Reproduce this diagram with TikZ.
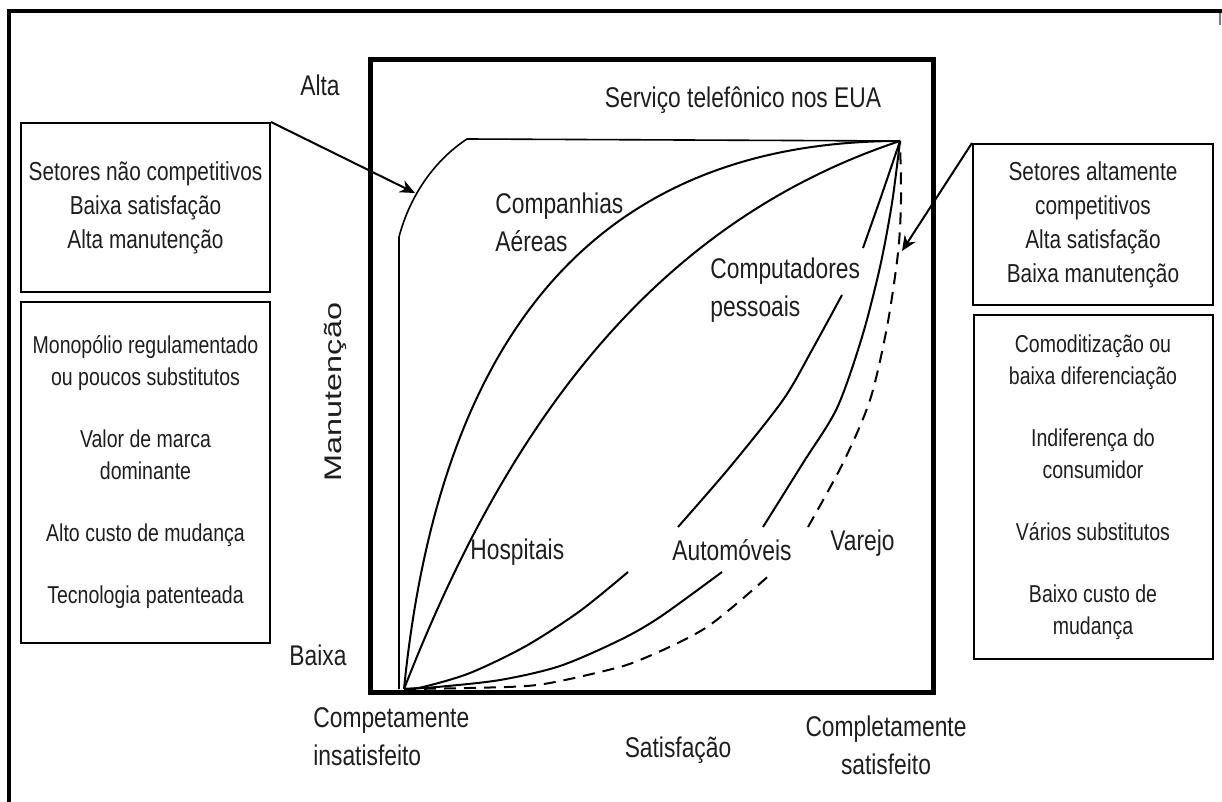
\documentclass[tikz,border=0pt]{standalone}
\usepackage{fontspec}
\setmainfont{Liberation Sans}[FakeStretch=0.8]
\newfontfamily\axisfont{Liberation Sans}[FakeStretch=1.35]
\usetikzlibrary{arrows.meta, positioning}

\tikzset{
    infobox/.style={draw, line width=1pt, inner sep=0pt, align=center, text=inkgray,
        font=\fontsize{13}{17}\selectfont},
    listbox/.style={infobox, font=\fontsize{12.2}{16}\selectfont},
    plotlabel/.style={inner sep=0pt, align=left, text=inkgray,
        font=\fontsize{14.25}{19}\selectfont},
    curve/.style={line width=1pt},
    pointer/.style={line width=1pt, -{Stealth[length=7.5pt, width=6.5pt]}},
}

\begin{document}
\begin{tikzpicture}[x=0.5pt, y=-0.5pt]
    \definecolor{inkgray}{RGB}{30, 30, 30}
    \definecolor{edgeviolet}{RGB}{140, 110, 150}

    \useasboundingbox (0,0) rectangle (1222,802);

    % page frame
    \draw[line width=1.75pt] (9,802) -- (9,11) -- (1222,11);
    \draw[line width=1pt, edgeviolet] (1220,13) -- (1220,25);

    % plot frame
    \draw[line width=2.5pt] (370,60) rectangle (933,692);

    \coordinate (o) at (404,689);
    \coordinate (p) at (900,141);
    \coordinate (kink) at (399,237);
    \coordinate (shoulder) at (467,139);

    % servico telefonico
    \draw[line width=0.8pt] (399,689) -- (kink) .. controls (410,195) and (435,160) .. (shoulder) -- (p);

    % companhias aereas / hospitais
    \draw[curve] (o) .. controls (440,330) and (600,141) .. (p);
    \draw[curve] (o) .. controls (505,430) and (650,224) .. (p);

    % computadores pessoais
    \draw[curve] plot[smooth] coordinates {(o) (423,687) (470,673) (526,646) (580,611) (628,572)};
    \draw[curve] plot[smooth] coordinates {(678,527) (730,467) (783,400) (812,350) (842,295)};
    \draw[curve] plot[smooth] coordinates {(863,248) (882,194) (p)};

    % automoveis
    \draw[curve] plot[smooth] coordinates {(o) (437,687) (500,680) (560,666) (620,640) (660,617) (722,572)};
    \draw[curve] plot[smooth] coordinates {(763,527) (803,463) (837,408) (862,337) (880,267) (892,203) (p)};

    % varejo
    \draw[curve, dash pattern=on 6pt off 4pt] plot[smooth] coordinates {(o) (470,688) (537,685) (600,672) (640,660) (707,627) (773,572)};
    \draw[curve, dash pattern=on 6pt off 4pt] plot[smooth] coordinates {(808,527) (843,463) (870,400) (887,327) (898,253) (901,200) (p)};

    % side boxes
    \node[infobox, minimum width=124.5pt, minimum height=84.5pt] (naoComp) at (145.5,207.5)
        {Setores não competitivos\\Baixa satisfação\\Alta manutenção};
    \node[listbox, minimum width=124.5pt, minimum height=170.5pt, below=4pt of naoComp] (monopolio)
        {Monopólio regulamentado\\ou poucos substitutos\\[15pt]
         Valor de marca\\dominante\\[15pt]
         Alto custo de mudança\\[15pt]
         Tecnologia patenteada};

    \node[infobox, minimum width=120pt, minimum height=80.5pt] (altComp) at (1093,224.5)
        {Setores altamente\\competitivos\\Alta satisfação\\Baixa manutenção};
    \node[listbox, minimum width=119.5pt, minimum height=172pt, below=4pt of altComp] (comodity)
        {Comoditização ou\\baixa diferenciação\\[15pt]
         Indiferença do\\consumidor\\[15pt]
         Vários substitutos\\[15pt]
         Baixo custo de\\mudança};

    % pointers
    \coordinate (tipL) at (415,193);
    \coordinate (tipR) at (902,251);
    \draw[pointer] (naoComp.north east) -- (tipL);
    \draw[pointer] (altComp.north west) -- (tipR);

    % axis labels
    \node[plotlabel] (alta) at (320,85) {Alta};
    \node[plotlabel] (baixa) at (318,655) {Baixa};
    \node[plotlabel, rotate=90, font=\axisfont\fontsize{12}{14}\selectfont] (manut) at (335,392) {Manutenção};
    \node[plotlabel, anchor=west] (insat) at (313,737) {Competamente\\insatisfeito};
    \node[plotlabel] (satisf) at (678,750) {Satisfação};
    \node[plotlabel, align=center] (complSat) at (886,745) {Completamente\\satisfeito};

    % curve labels
    \node[plotlabel] (telefone) at (743,100) {Serviço telefônico nos EUA};
    \node[plotlabel, anchor=west] (aereas) at (495,222) {Companhias\\Aéreas};
    \node[plotlabel, anchor=west] (pcs) at (710,290) {Computadores\\pessoais};
    \node[plotlabel, anchor=west] (hosp) at (470,552) {Hospitais};
    \node[plotlabel, anchor=west] (autos) at (672,550) {Automóveis};
    \node[plotlabel, anchor=west] (varejo) at (830,543) {Varejo};
\end{tikzpicture}
\end{document}
